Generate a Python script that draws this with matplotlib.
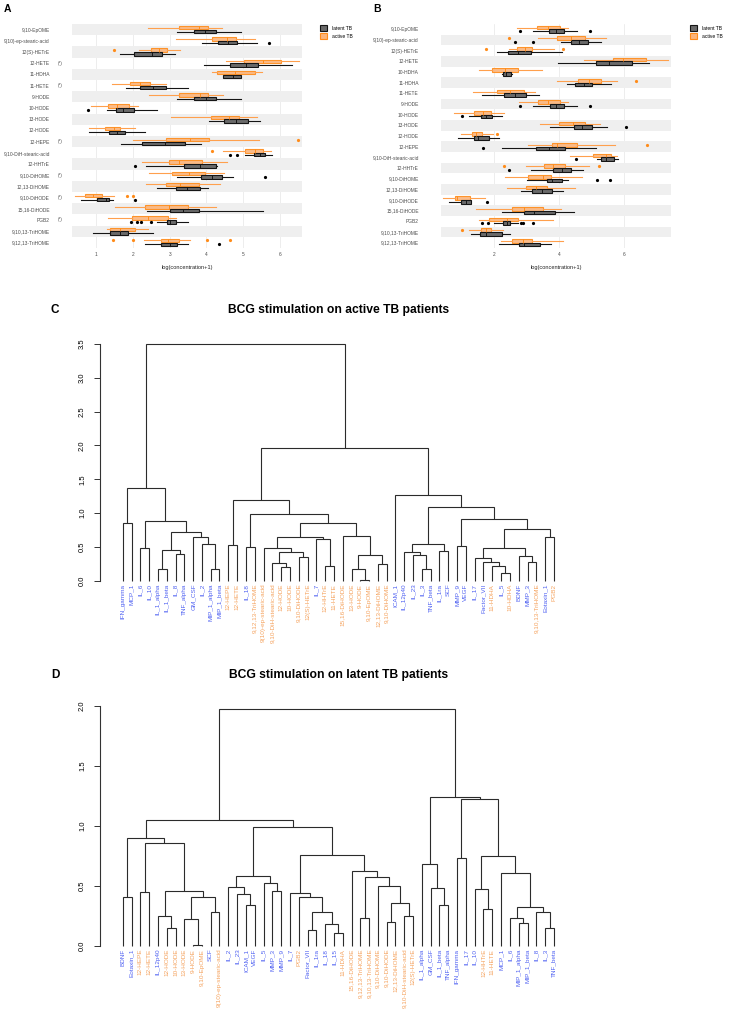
import numpy as np
import matplotlib
matplotlib.use('Agg')
import matplotlib.pyplot as plt
import matplotlib.transforms as mtransforms
from matplotlib.patches import Patch

plt.rcParams['font.family'] = ['Liberation Sans', 'DejaVu Sans']

W, H = 736, 1017
fig = plt.figure(figsize=(W / 100, H / 100), dpi=100)

# ---------------- panel A / B data (top row first) ----------------
# box = (whisker low, q1, median, q3, whisker high)
a_labels = ['9,10-EpOME', '9(10)-ep-stearic-acid', '12(S)-HETrE', '12-HETE', '11-HDHA',
            '11-HETE', '9-HODE', '10-HODE', '13-HODE', '12-HODE', '12-HEPE',
            '9,10-DiH-stearic-acid', '12-HHTrE', '9,10-DiHOME', '12,13-DiHOME',
            '9,10-DiHODE', '15,16-DiHODE', 'PGB2', '9,10,13-TriHOME', '9,12,13-TriHOME']
a_signif = ['12-HETE', '11-HETE', '12-HEPE', '9,10-DiHOME', '9,10-DiHODE', 'PGB2']
a_active_box = [(2.42, 3.25, 3.81, 4.03, 4.42), (3.18, 4.14, 4.55, 4.80, 5.31),
                (2.16, 2.48, 2.72, 2.92, 3.28), (4.52, 5.01, 5.54, 6.03, 6.52),
                (4.16, 4.29, 4.78, 5.32, 5.51), (1.43, 1.93, 2.19, 2.45, 2.89),
                (2.44, 3.26, 3.83, 4.04, 4.45), (0.87, 1.31, 1.57, 1.89, 2.14),
                (3.04, 4.12, 4.61, 4.88, 5.37), (0.81, 1.24, 1.49, 1.65, 2.05),
                (2.01, 2.90, 3.55, 4.07, 5.43), (4.45, 5.06, 5.31, 5.54, 5.75),
                (2.25, 2.99, 3.26, 3.88, 4.55), (2.43, 3.05, 3.53, 3.95, 4.47),
                (2.35, 2.91, 3.28, 3.80, 4.38), (0.41, 0.70, 0.90, 1.15, 1.48),
                (1.51, 2.32, 2.98, 3.49, 4.26), (1.31, 1.98, 2.42, 2.96, 3.18),
                (1.30, 1.38, 1.66, 2.05, 2.40), (2.30, 2.75, 2.95, 3.25, 3.55)]
a_active_out = [[], [], [1.48], [], [], [], [], [], [], [], [6.48], [4.15], [], [], [],
                [1.85, 1.99], [], [], [], [1.45, 1.99, 4.01, 4.64]]
a_latent_box = [(3.20, 3.65, 3.95, 4.25, 4.95), (3.88, 4.31, 4.58, 4.83, 5.37),
                (1.66, 2.03, 2.51, 2.79, 3.14), (3.93, 4.65, 5.07, 5.41, 6.33),
                (4.45, 4.46, 4.71, 4.94, 4.94), (1.81, 2.18, 2.54, 2.89, 3.49),
                (3.20, 3.65, 3.98, 4.25, 4.94), (1.30, 1.55, 1.72, 2.02, 2.66),
                (4.06, 4.48, 4.80, 5.12, 5.45), (0.80, 1.35, 1.57, 1.77, 2.33),
                (1.67, 2.25, 2.86, 3.42, 3.84), (5.05, 5.28, 5.45, 5.58, 5.79),
                (2.35, 3.38, 3.83, 4.25, 4.28), (3.19, 3.86, 4.15, 4.43, 4.71),
                (2.65, 3.18, 3.47, 3.82, 4.05), (0.58, 1.03, 1.26, 1.35, 1.46),
                (2.37, 3.01, 3.36, 3.79, 5.55), (2.66, 2.92, 3.01, 3.17, 3.51),
                (0.92, 1.38, 1.65, 1.87, 2.55), (2.32, 2.77, 3.02, 3.21, 3.49)]
a_latent_out = [[], [5.70], [], [], [], [], [], [0.77], [], [], [], [4.65, 4.84], [2.06],
                [5.59], [], [2.05], [], [1.95, 2.11, 2.21, 2.50], [], [4.35]]

b_labels = ['9,10-EpOME', '9(10)-ep-stearic-acid', '12(S)-HETrE', '12-HETE', '10-HDHA',
            '11-HDHA', '11-HETE', '9-HODE', '10-HODE', '13-HODE', '12-HODE', '12-HEPE',
            '9,10-DiH-stearic-acid', '12-HHTrE', '9,10-DiHOME', '12,13-DiHOME',
            '9,10-DiHODE', '15,16-DiHODE', 'PGB2', '9,10,13-TriHOME', '9,12,13-TriHOME']
b_active_box = [(2.71, 3.33, 3.65, 4.03, 4.29), (3.35, 3.94, 4.38, 4.79, 5.45),
                (2.46, 2.71, 2.94, 3.18, 3.83), (4.77, 5.65, 5.98, 6.68, 7.35),
                (1.54, 1.94, 2.32, 2.72, 3.47), (3.94, 4.59, 4.92, 5.29, 5.79),
                (1.34, 2.08, 2.50, 2.92, 3.27), (2.75, 3.34, 3.67, 4.03, 4.29),
                (0.76, 1.38, 1.64, 1.91, 2.29), (3.41, 4.01, 4.42, 4.81, 5.26),
                (0.97, 1.33, 1.45, 1.61, 1.95), (3.04, 3.77, 3.95, 4.56, 5.71),
                (4.35, 5.05, 5.44, 5.61, 5.78), (2.98, 3.53, 3.82, 4.18, 4.91),
                (2.33, 3.05, 3.51, 3.75, 4.70), (2.39, 2.99, 3.29, 3.64, 4.48),
                (0.43, 0.80, 0.86, 1.26, 1.73), (1.43, 2.56, 2.92, 3.49, 4.07),
                (1.52, 1.85, 2.38, 2.74, 3.80), (1.23, 1.60, 1.75, 1.91, 2.28),
                (2.22, 2.56, 2.88, 3.18, 4.11)]
b_active_out = [[], [2.46], [1.75, 4.11], [], [], [6.38], [], [], [], [], [2.08], [6.72],
                [], [2.31, 5.24], [], [], [], [], [], [1.00], []]
b_latent_box = [(3.20, 3.70, 3.89, 4.15, 4.54), (4.06, 4.36, 4.60, 4.88, 5.29),
                (2.09, 2.44, 2.72, 3.12, 4.08), (3.98, 5.13, 5.53, 6.24, 6.76),
                (2.25, 2.26, 2.36, 2.53, 2.54), (4.23, 4.50, 4.77, 5.03, 5.60),
                (1.61, 2.30, 2.64, 2.97, 3.38), (3.21, 3.71, 3.89, 4.15, 4.54),
                (1.23, 1.59, 1.74, 1.94, 2.25), (3.73, 4.45, 4.72, 5.02, 5.48),
                (0.88, 1.38, 1.49, 1.84, 2.15), (2.23, 3.28, 3.70, 4.18, 5.13),
                (5.18, 5.30, 5.45, 5.68, 5.83), (3.12, 3.80, 4.08, 4.37, 4.75),
                (3.00, 3.64, 3.77, 4.08, 4.26), (2.84, 3.17, 3.46, 3.77, 4.12),
                (0.60, 0.97, 1.14, 1.30, 1.30), (2.25, 2.91, 3.24, 3.88, 4.47),
                (1.99, 2.26, 2.38, 2.49, 2.72), (1.28, 1.56, 1.76, 2.23, 2.50),
                (2.14, 2.76, 2.93, 3.41, 3.74)]
b_latent_out = [[2.79, 4.96], [2.64, 3.19], [], [], [], [], [], [2.79, 4.96], [1.01], [6.07],
                [], [1.67], [4.53], [2.47], [5.16, 5.58], [], [1.79], [],
                [1.63, 1.80, 2.84, 2.90, 3.20], [], []]

# ---------------- panel C / D dendrograms: (left, right, merge height) ----------------
c_tree = (
    (('IFN_gamma', 'MCP_1', 0.86),
     (('IL_6', 'IL_10', 0.48),
      ((('IL_1_alpha', 'IL_1_beta', 0.18), ('IL_8', 'TNF_alpha', 0.39), 0.46),
       ('GM_CSF', ('IL_2', ('MIP_1_alpha', 'MIP_1_beta', 0.18), 0.55), 0.65), 0.72),
      0.89),
     1.37),
    ((('12-HEPE', '12-HETE', 0.53),
      (('IL_18', '9,12,13-TriHOME', 0.50),
       ((('9(10)-ep-stearic-acid',
           (('9,10-DiH-stearic-acid', ('12-HODE', '10-HODE', 0.20), 0.26),
            ('9,10-DiHODE', '12(S)-HETrE', 0.35), 0.43), 0.49),
          ('IL_7', ('12-HHTrE', '11-HETE', 0.21), 0.61), 0.64),
        ('15,16-DiHODE', (('13-HODE', ('9-HODE', '9,10-EpOME', 0.015), 0.18),
                          ('12,13-DiHOME', '9,10-DiHOME', 0.24), 0.38), 0.66),
        0.85),
       0.98),
      1.20),
     ('ICAM_1',
      ((('IL_12p40', ('IL_23', ('IL_3', 'TNF_beta', 0.18), 0.38), 0.42),
        ('IL_1ra', 'SCF', 0.44), 0.55),
       (('MMP_9', 'VEGF', 0.52),
        ((('IL_17', ('Factor_VII', ('11-HDHA', ('IL_5', '10-HDHA', 0.12), 0.22), 0.27), 0.33),
          ('BDNF', ('MMP_3', '9,10,13-TriHOME', 0.28), 0.36), 0.49),
         ('Eotaxin_1', 'PGB2', 0.64), 0.77),
        0.91),
       1.09),
      1.26),
     1.96),
    3.5)

d_tree = (
    ((('BDNF', 'Eotaxin_1', 0.41),
      (('12-HEPE', '12-HETE', 0.45),
       (('IL_12p40', ('12-HODE', '10-HODE', 0.15), 0.25),
        (('13-HODE', ('9-HODE', '9,10-EpOME', 0.01), 0.22),
         ('SCF', '9(10)-ep-stearic-acid', 0.28), 0.41),
        0.46),
       0.86),
      0.90),
     ((('IL_2', ('IL_23', ('ICAM_1', 'VEGF', 0.34), 0.43), 0.49),
       ('IL_5', ('MMP_3', 'MMP_9', 0.46), 0.52), 0.58),
      (('IL_7', ('PGB2', (('Factor_VII', 'IL_1ra', 0.13),
                          ('IL_18', ('IL_15', '11-HDHA', 0.11), 0.18), 0.28), 0.41), 0.44),
       ('15,16-DiHODE', (('9,12,13-TriHOME', '9,10,13-TriHOME', 0.23),
                         ('9,10-DiHOME', (('9,10-DiHODE', '12,13-DiHOME', 0.20),
                                          ('9,10-DiH-stearic-acid', '12(S)-HETrE', 0.25), 0.36),
                          0.50), 0.575), 0.625),
       0.76),
      0.99),
     1.05),
    (('IL_1_alpha', ('GM_CSF', ('IL_1_beta', 'TNF_alpha', 0.34), 0.48), 0.68),
     (('IFN_gamma', 'IL_17', 0.73),
      (('IL_10', ('12-HHTrE', '11-HETE', 0.31), 0.475),
       ('MCP_1', (('IL_6', ('MIP_1_alpha', 'MIP_1_beta', 0.19), 0.23),
                  ('IL_8', ('IL_3', 'TNF_beta', 0.145), 0.28), 0.32), 0.61),
       0.75),
      1.22),
     1.24),
    1.97)

ORANGE = '#ff8c1a'
ORANGE_FILL = '#fbb57c'
GREY_FILL = '#6a6a6a'
BLUE_LAB = '#5062f2'
ORANGE_LAB = '#f5a35f'


def px_axes(l, t, r, b):
    return fig.add_axes([l / W, 1 - b / H, (r - l) / W, (b - t) / H])


def to_stats(boxes, outs):
    return [dict(whislo=b[0], q1=b[1], med=b[2], q3=b[3], whishi=b[4], fliers=o)
            for b, o in zip(boxes, outs)]


def box_panel(ax, labels, act_box, act_out, lat_box, lat_out, xlim, xticks):
    n = len(labels)
    pos = np.arange(n)[::-1]
    for k in range(n):
        if k % 2 == 1:
            ax.axhspan(k - 0.5, k + 0.5, color='#efefef', lw=0, zorder=0.1)
    for xt in xticks:
        ax.axvline(xt, color='#e6e6e6', lw=0.5, zorder=0)
    ax.bxp(to_stats(act_box, act_out), positions=pos + 0.17, widths=0.32,
           orientation='horizontal', patch_artist=True, showcaps=False,
           boxprops=dict(facecolor=ORANGE_FILL, edgecolor=ORANGE, lw=0.8, alpha=0.9),
           whiskerprops=dict(color='#ffa04d', lw=0.8),
           medianprops=dict(color=ORANGE, lw=0.7),
           flierprops=dict(marker='o', markerfacecolor=ORANGE, markeredgecolor='none',
                           markersize=2.3))
    ax.bxp(to_stats(lat_box, lat_out), positions=pos - 0.17, widths=0.32,
           orientation='horizontal', patch_artist=True, showcaps=False,
           boxprops=dict(facecolor=GREY_FILL, edgecolor='#151515', lw=0.8),
           whiskerprops=dict(color='#151515', lw=0.8),
           medianprops=dict(color='#151515', lw=0.7),
           flierprops=dict(marker='o', markerfacecolor='black', markeredgecolor='none',
                           markersize=2.3))
    ax.set_yticks(pos)
    ax.set_yticklabels(labels)
    ax.set_ylim(-0.5, n - 0.5)
    ax.set_xlim(*xlim)
    ax.set_xticks(xticks)
    ax.set_xticklabels([str(t) for t in xticks])
    ax.tick_params(length=0, labelsize=3.5, labelcolor='#4d4d4d', pad=3)
    ax.tick_params(axis='y', pad=16)
    for s in ax.spines.values():
        s.set_visible(False)
    ax.set_xlabel('log(concentration+1)', fontsize=4.1, color='#222222', labelpad=6)
    return pos


def legend_at(x, y):
    handles = [Patch(facecolor=GREY_FILL, edgecolor='#151515', lw=0.8, label='latent TB'),
               Patch(facecolor=ORANGE_FILL, edgecolor=ORANGE, lw=0.8, label='active TB')]
    fig.legend(handles=handles, loc='upper left', bbox_to_anchor=(x / W, 1 - y / H),
               frameon=False, fontsize=3.6, handlelength=1.4, handleheight=1.4,
               labelspacing=0.5, handletextpad=0.9, borderaxespad=0, borderpad=0)


# panel A
ax_a = px_axes(72, 24, 302, 248)
pos_a = box_panel(ax_a, a_labels, a_active_box, a_active_out, a_latent_box, a_latent_out,
                  (0.34, 6.6), [1, 2, 3, 4, 5, 6])
tr = mtransforms.blended_transform_factory(ax_a.transAxes, ax_a.transData)
for lab, p in zip(a_labels, pos_a):
    if lab in a_signif:
        ax_a.text(-0.052, p, '(*)', transform=tr, ha='center', va='center',
                  fontsize=3.3, color='#4d4d4d')
legend_at(320, 25)
fig.text(4 / W, 1 - 9 / H, 'A', fontsize=7.5, fontweight='bold', va='center')

# panel B
ax_b = px_axes(441, 24, 671, 248)
box_panel(ax_b, b_labels, b_active_box, b_active_out, b_latent_box, b_latent_out,
          (0.36, 7.45), [2, 4, 6])
legend_at(690, 25)
fig.text(373 / W, 1 - 9 / H, 'B', fontsize=7.5, fontweight='bold', va='center')


# ---------------- dendrograms ----------------
def draw_tree(ax, node, order):
    if isinstance(node, str):
        order.append(node)
        return len(order) - 1, 0.0
    left, right, h = node
    xl, hl = draw_tree(ax, left, order)
    xr, hr = draw_tree(ax, right, order)
    ax.plot([xl, xl, xr, xr], [hl, h, h, hr], color='#2b2b2b', lw=0.8,
            solid_joinstyle='miter', solid_capstyle='butt')
    return (xl + xr) / 2, h


def dendro_panel(tree, top_val, y_top, y_zero, title, letter, title_y):
    pad = 0.04 * top_val
    ppu = (y_zero - y_top) / top_val
    leaf0, step = 122.7, 8.8
    left_px = leaf0 - 2 * step
    right_px = leaf0 + 51 * step
    ax = px_axes(left_px, y_top - pad * ppu, right_px, y_zero + pad * ppu)
    order = []
    draw_tree(ax, tree, order)
    ax.set_xlim(-2, 51)
    ax.set_ylim(-pad, top_val + pad)
    off = mtransforms.offset_copy(ax.transData, fig=fig, y=-3, units='dots')
    for i, name in enumerate(order):
        ax.text(i, 0, name, transform=off, rotation=90, ha='center', va='top',
                fontsize=4.6, color=ORANGE_LAB if name in b_labels else BLUE_LAB)
    for s in ['top', 'right', 'bottom']:
        ax.spines[s].set_visible(False)
    ax.spines['left'].set_position(('outward', 3.7))
    ax.spines['left'].set_bounds(0, top_val)
    ax.spines['left'].set_color('#333333')
    ax.spines['left'].set_linewidth(0.8)
    ticks = np.arange(0, top_val + 0.01, 0.5)
    ax.set_yticks(ticks)
    ax.set_yticklabels(['%.1f' % t for t in ticks], rotation=90, va='center')
    ax.tick_params(axis='y', length=4, width=0.7, color='#333333', labelsize=5.5, pad=6)
    ax.set_xticks([])
    fig.text(((left_px + right_px) / 2) / W, 1 - title_y / H, title, ha='center',
             va='center', fontsize=8.7, fontweight='bold')
    fig.text(55 / W, 1 - title_y / H, letter, ha='center', va='center', fontsize=8.5,
             fontweight='bold')


dendro_panel(c_tree, 3.5, 344, 580.7, 'BCG stimulation on active TB patients', 'C', 310)
dendro_panel(d_tree, 2.0, 705.7, 945.7, 'BCG stimulation on latent TB patients', 'D', 675)

fig.savefig('out.png', dpi=100)
